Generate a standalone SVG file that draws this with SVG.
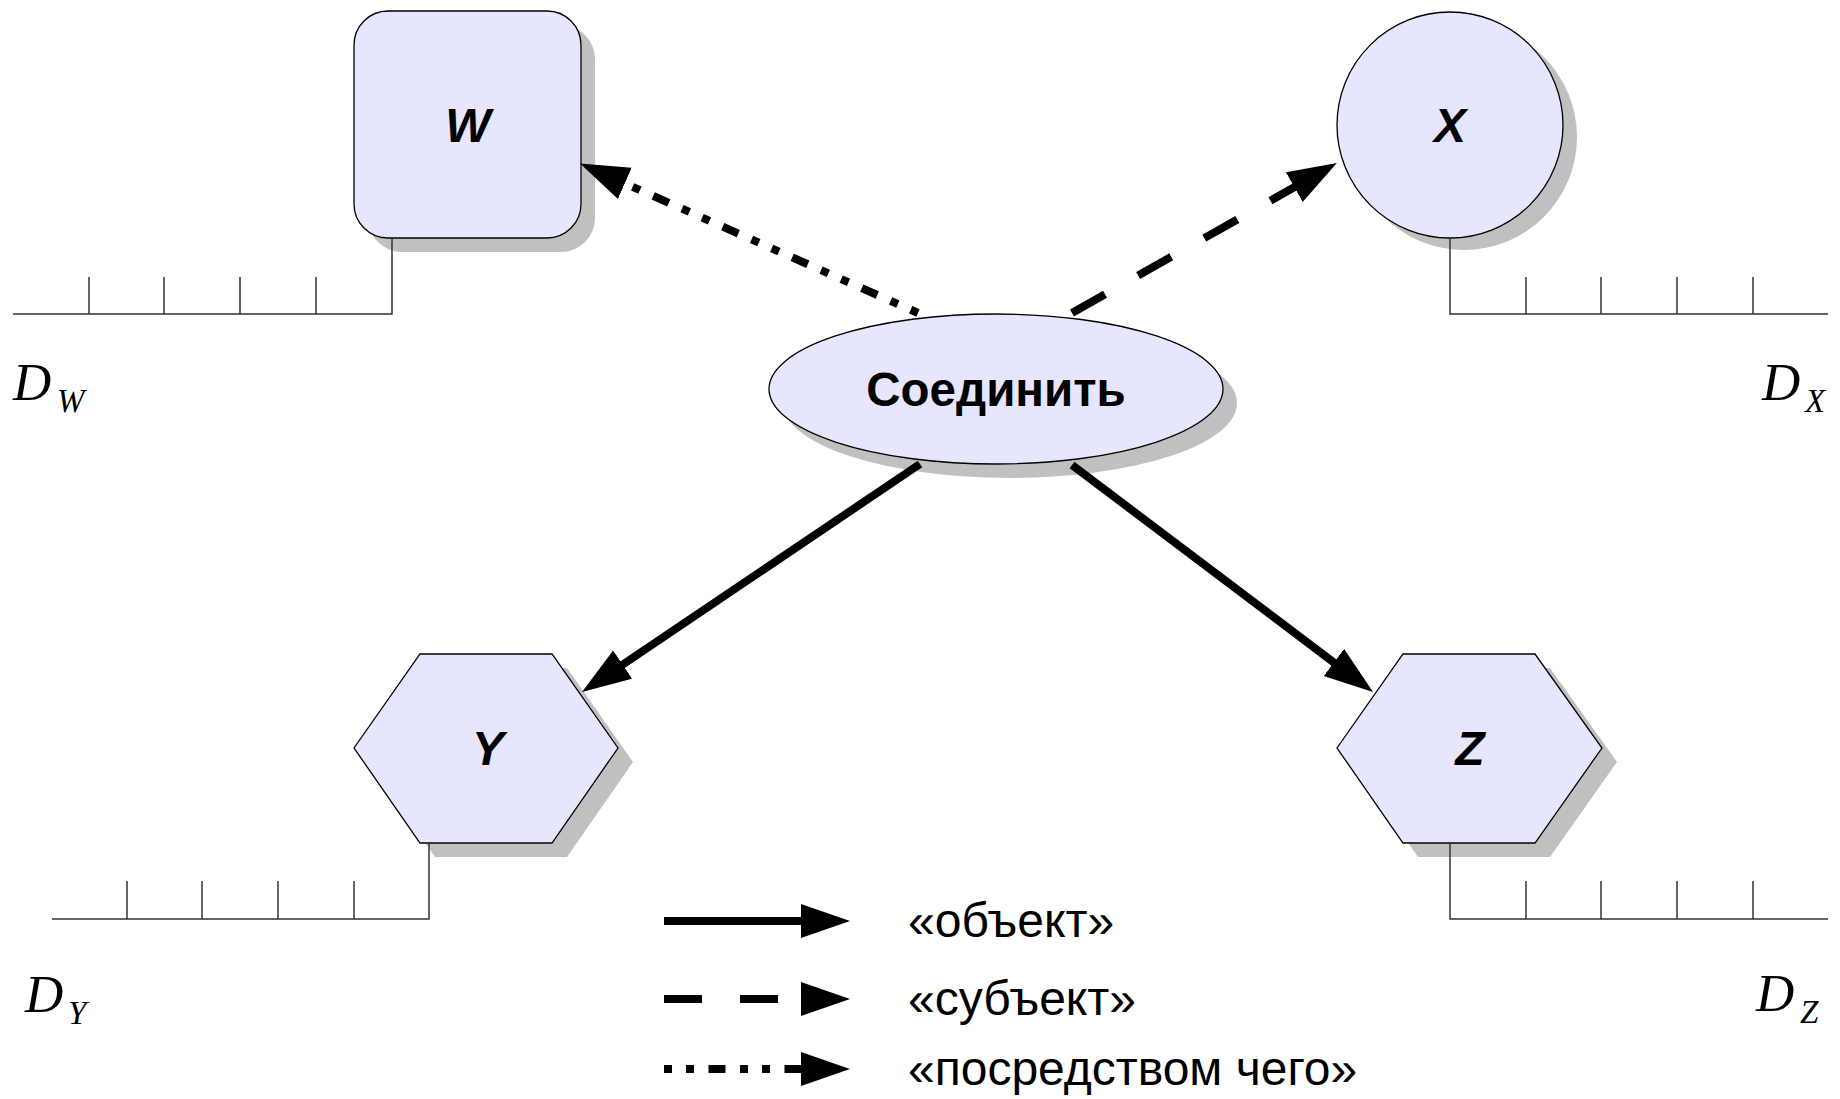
<svg xmlns="http://www.w3.org/2000/svg" width="1840" height="1099" viewBox="0 0 1840 1099">
<style>
.node{fill:#e6e6ff;stroke:#000;stroke-width:1.3}
.shadow{fill:#c0c0c0;stroke:none}
.lbl{font-family:"Liberation Sans",Arial,sans-serif;font-weight:bold;font-style:italic;font-size:48px;text-anchor:middle;fill:#000}
.main{font-family:"Liberation Sans",Arial,sans-serif;font-weight:bold;font-size:47.5px;text-anchor:middle;fill:#000}
.ruler{stroke:#333;stroke-width:1.5;fill:none}
.dom{font-family:"Liberation Serif","Times New Roman",serif;font-style:italic;fill:#000}
.leg{font-family:"Liberation Sans",Arial,sans-serif;font-size:48px;fill:#000}
.c{stroke:#000;stroke-width:8;fill:none;stroke-linecap:butt}
.solid{marker-end:url(#ah)}
.dash{stroke-dasharray:38 38;marker-end:url(#ah)}
.dot{stroke-dasharray:8 14 8 14.5 17 14.5;marker-end:url(#ah)}
</style>
<defs>
<marker id="ah" markerUnits="userSpaceOnUse" markerWidth="52" markerHeight="36" refX="2" refY="17" orient="auto">
<path d="M0,0 L49,17 L0,34 z" fill="#000"/>
</marker>
</defs>
<rect width="1840" height="1099" fill="#fff"/>

<g id="node-W">
<rect class="shadow" x="368" y="25" width="227" height="227" rx="34"/>
<rect class="node" x="354" y="11" width="227" height="227" rx="34"/>
<text class="lbl" x="468" y="142">W</text>
</g>

<g id="node-X">
<circle class="shadow" cx="1464" cy="137" r="113"/>
<circle class="node" cx="1450" cy="125" r="113"/>
<text class="lbl" x="1450" y="142">X</text>
</g>

<g id="node-Join">
<ellipse class="shadow" cx="1010" cy="403" rx="227" ry="75"/>
<ellipse class="node" cx="996" cy="389" rx="227" ry="75"/>
<text class="main" x="996" y="406">Соединить</text>
</g>

<g id="node-Y">
<polygon class="shadow" points="369,762 435,668 567,668 633,762 567,857 435,857"/>
<polygon class="node" points="354,748 420,654 552,654 618,748 552,843 420,843"/>
<text class="lbl" x="488" y="765">Y</text>
</g>

<g id="node-Z">
<polygon class="shadow" points="1352,762 1418,668 1550,668 1617,762 1550,857 1418,857"/>
<polygon class="node" points="1337,748 1403,654 1535,654 1602,748 1535,843 1403,843"/>
<text class="lbl" x="1470" y="765">Z</text>
</g>

<g id="domain-W">
<path class="ruler" d="M392,238 V314 H13 M89,277 V314 M164,277 V314 M240,277 V314 M316,277 V314"/>
<text class="dom" x="13" y="400" font-size="53">D</text>
<text class="dom" x="57" y="412" font-size="33">W</text>
</g>

<g id="domain-X">
<path class="ruler" d="M1450,238 V314 H1828 M1526,277 V314 M1601,277 V314 M1677,277 V314 M1753,277 V314"/>
<text class="dom" x="1762" y="400" font-size="53">D</text>
<text class="dom" x="1805" y="412" font-size="33">X</text>
</g>

<g id="domain-Y">
<path class="ruler" d="M429,843 V919 H52 M127,881 V919 M202,881 V919 M278,881 V919 M354,881 V919"/>
<text class="dom" x="25" y="1012" font-size="53">D</text>
<text class="dom" x="68" y="1024" font-size="33">Y</text>
</g>

<g id="domain-Z">
<path class="ruler" d="M1450,843 V919 H1828 M1526,881 V919 M1601,881 V919 M1677,881 V919 M1753,881 V919"/>
<text class="dom" x="1756" y="1011" font-size="53">D</text>
<text class="dom" x="1800" y="1023" font-size="33">Z</text>
</g>

<g id="connectors">
<line class="c dot" x1="918" y1="313" x2="623" y2="182.6"/>
<line class="c dash" x1="1072" y1="313" x2="1296" y2="186.2"/>
<line class="c solid" x1="920" y1="464" x2="621" y2="665.7"/>
<line class="c solid" x1="1072" y1="465" x2="1335.5" y2="663.7"/>
</g>

<g id="legend">
<line class="c solid" x1="664" y1="921" x2="803" y2="921"/>
<line class="c dash" x1="664" y1="999" x2="803" y2="999"/>
<line class="c dot" x1="664" y1="1069" x2="803" y2="1069"/>
<text class="leg" x="908" y="937">«объект»</text>
<text class="leg" x="908" y="1015">«субъект»</text>
<text class="leg" x="908" y="1085">«посредством чего»</text>
</g>
</svg>
